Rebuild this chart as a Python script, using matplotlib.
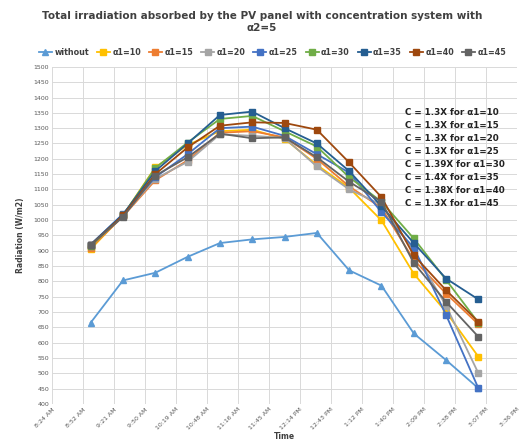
import pandas as pd
import matplotlib
matplotlib.use("Agg")
from matplotlib import pyplot as plt

# measurement times (every half hour)
times = ["09:00", "09:30", "10:00", "10:30", "11:00", "11:30", "12:00",
         "12:30", "13:00", "13:30", "14:00", "14:30", "15:00"]

without = [665, 803, 828, 880, 925, 937, 945, 958, 836, 786, 630, 543, 451]
a1_10 = [905, 1015, 1172, 1245, 1290, 1295, 1265, 1180, 1105, 999, 825, 700, 554]
a1_15 = [910, 1012, 1130, 1195, 1285, 1290, 1270, 1200, 1110, 1040, 870, 760, 660]
a1_20 = [915, 1015, 1135, 1190, 1280, 1275, 1268, 1175, 1100, 1050, 900, 720, 500]
a1_25 = [920, 1020, 1140, 1215, 1300, 1305, 1275, 1215, 1155, 1026, 910, 690, 451]
a1_30 = [915, 1015, 1170, 1253, 1330, 1340, 1290, 1240, 1140, 1060, 940, 805, 665]
a1_35 = [920, 1018, 1160, 1250, 1343, 1354, 1300, 1250, 1160, 1045, 925, 809, 741]
a1_40 = [918, 1015, 1150, 1237, 1308, 1319, 1317, 1295, 1188, 1075, 885, 771, 668]
a1_45 = [920, 1010, 1145, 1205, 1282, 1267, 1270, 1205, 1125, 1060, 860, 733, 619]

series = [
    ("without", without, "#5B9BD5", "^"),
    ("α1=10", a1_10, "#FFC000", "s"),
    ("α1=15", a1_15, "#ED7D31", "s"),
    ("α1=20", a1_20, "#A5A5A5", "s"),
    ("α1=25", a1_25, "#4472C4", "s"),
    ("α1=30", a1_30, "#70AD47", "s"),
    ("α1=35", a1_35, "#255E91", "s"),
    ("α1=40", a1_40, "#9E480E", "s"),
    ("α1=45", a1_45, "#636363", "s"),
]

ratios = ["1.3X", "1.3X", "1.3X", "1.3X", "1.39X", "1.4X", "1.38X", "1.3X"]
alphas = [10, 15, 20, 25, 30, 35, 40, 45]


def main():
    x = pd.to_datetime(["2020-01-01 " + t for t in times])
    ticks = pd.date_range("2020-01-01 08:24", periods=16, freq="1728s")

    fig = plt.figure(figsize=(5.24, 4.4), dpi=100)
    ax = fig.add_axes([0.099, 0.082, 0.888, 0.766])

    for name, vals, color, marker in series:
        ax.plot(x, vals, color=color, marker=marker, markersize=4,
                linewidth=1.3, label=name)

    ax.set_xlim(ticks[0], ticks[-1])
    ax.set_xticks(ticks)
    ax.set_xticklabels([t.strftime("%-I:%M %p") for t in ticks],
                       rotation=45, ha="right", rotation_mode="anchor")
    ax.set_ylim(400, 1500)
    ax.set_yticks(range(400, 1501, 50))
    ax.tick_params(labelsize=4.5, colors="#595959", length=0, pad=2)
    ax.grid(True, color="#D9D9D9", linewidth=0.7)
    ax.set_axisbelow(True)
    for s in ax.spines.values():
        s.set_visible(False)

    ax.set_xlabel("Time", fontsize=5.5, fontweight="bold", color="#404040", labelpad=1)
    ax.set_ylabel("Radiation (W/m2)", fontsize=5.5, fontweight="bold", color="#404040", labelpad=6)

    fig.suptitle("Total irradiation absorbed by the PV panel with concentration system with\nα2=5",
                 x=0.5, y=0.975, fontsize=7.5, fontweight="bold", color="#404040",
                 linespacing=1.2)

    fig.legend(loc="center", bbox_to_anchor=(0.52, 0.88), ncol=9, frameon=False,
               handlelength=1.6, columnspacing=1.0, handletextpad=0.3,
               prop={"weight": "bold", "size": 5.8}, labelcolor="#404040")

    txt = "\n".join(f"C = {r} for α1={a}" for r, a in zip(ratios, alphas))
    fig.text(0.773, 0.755, txt, fontsize=6.3, fontweight="bold", color="#222222",
             va="top", ha="left", linespacing=1.58)

    fig.savefig("out.png", dpi=100)


if __name__ == "__main__":
    main()
